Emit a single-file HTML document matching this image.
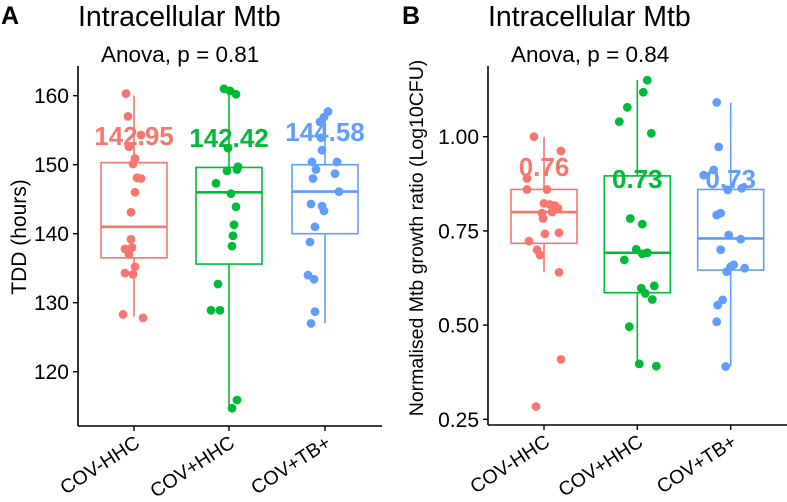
<!DOCTYPE html>
<html><head><meta charset="utf-8"><style>
html,body{margin:0;padding:0;background:#fff;width:787px;height:502px;overflow:hidden}
svg{display:block;font-family:"Liberation Sans",Arial,sans-serif}
</style></head><body>
<svg id="chart" width="787" height="502" viewBox="0 0 787 502"></svg>
<script>
const categories = ["COV-HHC","COV+HHC","COV+TB+"];
const colors = ["#F8766D","#00BA38","#619CFF"];
// Panel A: TDD (hours)
const tddValues = [
 [160.3,157,154.3,152.6,150.9,150.1,148.1,148,146,143.1,139.2,137.8,138,137.7,137,135.2,134.3,134.1,127.8,128.3],
 [160.7,161,160.2,152.4,149.3,149.1,149.7,147.3,145.8,143.9,141.3,139.7,138.2,132.7,128.9,128.9,115.9,114.7],
 [157.7,156.9,156.2,153.9,152.1,150.4,150.4,149.3,148.7,148,146.1,144.3,144,143.3,141,138.8,134,133.4,128.7,127]
];
const tddJitter = [
 [-8,-6,7,-5,1,-1,3,7,1,-3,-3,-9,-2,-5,-5,1,-9,-1,9,-11],
 [1,-5,7,-1,8,-2,9,-13,2,7,5,4,3,-11,-9,-18,8,3],
 [3,-1,-5,-4,-3,-13,12,-9,10,-12,14,-14,-3,-1,-10,-15,-17,-11,-10,-14]
];
const tddBoxes = [ // [lower whisker, q1, median, q3, upper whisker]
 [128,136.5,141,150.3,160],
 [115.1,135.6,146,149.6,160.3],
 [127,140,146.1,150,157.5]
];
const tddMeans = ["142.95","142.42","144.58"];
const tddTicks = [120,130,140,150,160];
// Panel B: growth ratio
const grValues = [
 [1.0,0.962,0.889,0.86,0.86,0.823,0.82,0.817,0.81,0.8,0.797,0.783,0.745,0.742,0.723,0.7,0.686,0.64,0.409,0.284],
 [1.15,1.118,1.078,1.04,1.009,0.783,0.768,0.701,0.692,0.689,0.673,0.604,0.598,0.584,0.568,0.496,0.397,0.391],
 [1.091,0.973,0.912,0.898,0.863,0.859,0.797,0.792,0.739,0.728,0.7,0.66,0.655,0.642,0.651,0.567,0.553,0.509,0.39]
];
const grJitter = [
 [-10,17,-17,-17,3,0,6,11,14,8,-2,-1,15,1,-15,-7,-4,15,17,-8],
 [10,6,-10,-18,14,-7,5,-1,10,5,-13,17,4,8,15,-8,2,19],
 [-14,-12,-17,-27,11,-3,-10,-14,-2,10,-10,3,0,-4,14,-8,-13,-14,-5]
];
const grBoxes = [
 [0.64,0.717,0.8,0.86,1.0],
 [0.39,0.586,0.692,0.896,1.15],
 [0.39,0.646,0.73,0.86,1.09]
];
const grMeans = ["0.76","0.73","0.73"];
const grTicks = [0.25,0.50,0.75,1.00];
const grTickLabels = ["0.25","0.50","0.75","1.00"];

const NS="http://www.w3.org/2000/svg";
const svg=document.getElementById('chart');
function mk(tag,attrs,parent,text){const e=document.createElementNS(NS,tag);for(const k in attrs)e.setAttribute(k,attrs[k]);if(text!==undefined)e.textContent=text;(parent||svg).appendChild(e);return e;}

function panel(cfg){
  const g=mk('g',{});
  
  
  const y=v=>cfg.y0+(v-cfg.v0)*(cfg.y1-cfg.y0)/(cfg.v1-cfg.v0);
  const x=i=>cfg.xs[i];
  let t=mk('text',{x:cfg.letterX,y:24,'font-size':25,'font-weight':'bold',fill:'#000'},g,cfg.letter);
  
  t=mk('text',{x:cfg.axisX,y:26,'font-size':28.5,fill:'#000'},g,'Intracellular Mtb');
  
  t=mk('text',{x:cfg.axisX+23,y:62,'font-size':22.5,fill:'#000'},g,cfg.anova);
  
  let a=mk('line',{x1:cfg.axisX,y1:cfg.axTop,x2:cfg.axisX,y2:cfg.axBottom,stroke:'#000','stroke-width':1.6},g);
  
  a=mk('line',{x1:cfg.axisX,y1:cfg.axBottom,x2:cfg.axRight,y2:cfg.axBottom,stroke:'#000','stroke-width':1.6},g);
  
  cfg.ticks.forEach((v,i)=>{
    const l=mk('line',{x1:cfg.axisX-5,y1:y(v),x2:cfg.axisX,y2:y(v),stroke:'#000','stroke-width':1.4},g);
    
    const tt=mk('text',{x:cfg.axisX-9,y:y(v)+7.5,'font-size':21,'text-anchor':'end',fill:'#000'},g,cfg.tickLabels[i]);
    
  });
  categories.forEach((c,i)=>{
    const l=mk('line',{x1:x(i),y1:cfg.axBottom,x2:x(i),y2:cfg.axBottom+5,stroke:'#000','stroke-width':1.4},g);
    
    const tt=mk('text',{x:0,y:0,'font-size':19.5,'text-anchor':'end',fill:'#000',transform:`translate(${x(i)+7},${cfg.axBottom+20}) rotate(-33)`},g,c);
    
  });
  const yt=mk('text',{x:0,y:0,'font-size':cfg.yTitleSize,'text-anchor':'middle',fill:'#000',transform:`translate(${cfg.yTitleX},${cfg.yTitleY}) rotate(-90)`},g,cfg.yTitle);
  
  cfg.boxes.forEach((b,i)=>{
    const col=colors[i],hw=33;
    const bg=mk('g',{},g);
    
    
    mk('line',{x1:x(i),y1:y(b[0]),x2:x(i),y2:y(b[1]),stroke:col,'stroke-width':1.6},bg);
    mk('line',{x1:x(i),y1:y(b[3]),x2:x(i),y2:y(b[4]),stroke:col,'stroke-width':1.6},bg);
    mk('rect',{x:x(i)-hw,y:y(b[3]),width:2*hw,height:y(b[1])-y(b[3]),fill:'none',stroke:col,'stroke-width':1.6},bg);
    mk('line',{x1:x(i)-hw,y1:y(b[2]),x2:x(i)+hw,y2:y(b[2]),stroke:col,'stroke-width':2.6},bg);
  });
  cfg.values.forEach((arr,i)=>{
    arr.forEach((v,j)=>{
      const p=mk('circle',{cx:x(i)+cfg.jitter[i][j],cy:y(v),r:4.4,fill:colors[i]},g);
      
      
    });
  });
  cfg.means.forEach((m,i)=>{
    const tt=mk('text',{x:x(i),y:cfg.meanY[i],'font-size':26,'font-weight':'bold','text-anchor':'middle',fill:colors[i]},g,m);
    
  });
}
panel({name:'panel-a',letter:'A',letterX:1,axisX:78,axTop:66,axBottom:426,axRight:382,
  v0:160,y0:95.7,v1:120,y1:371.7,xs:[134,229,325],ticks:tddTicks,tickLabels:tddTicks.map(String),
  values:tddValues,jitter:tddJitter,boxes:tddBoxes,means:tddMeans,meanY:[145,147,141],
  anova:'Anova, p = 0.81',yTitle:'TDD (hours)',yTitleX:26,yTitleY:237,yTitleSize:21});
panel({name:'panel-b',letter:'B',letterX:402,axisX:488,axTop:66,axBottom:425,axRight:787,
  v0:1.0,y0:136.7,v1:0.25,y1:419.3,xs:[544,637.3,730.7],ticks:grTicks,tickLabels:grTickLabels,
  values:grValues,jitter:grJitter,boxes:grBoxes,means:grMeans,meanY:[176,188,188],
  anova:'Anova, p = 0.84',yTitle:'Normalised Mtb growth ratio (Log10CFU)',yTitleX:423,yTitleY:238,yTitleSize:19.5});
</script>
</body></html>
